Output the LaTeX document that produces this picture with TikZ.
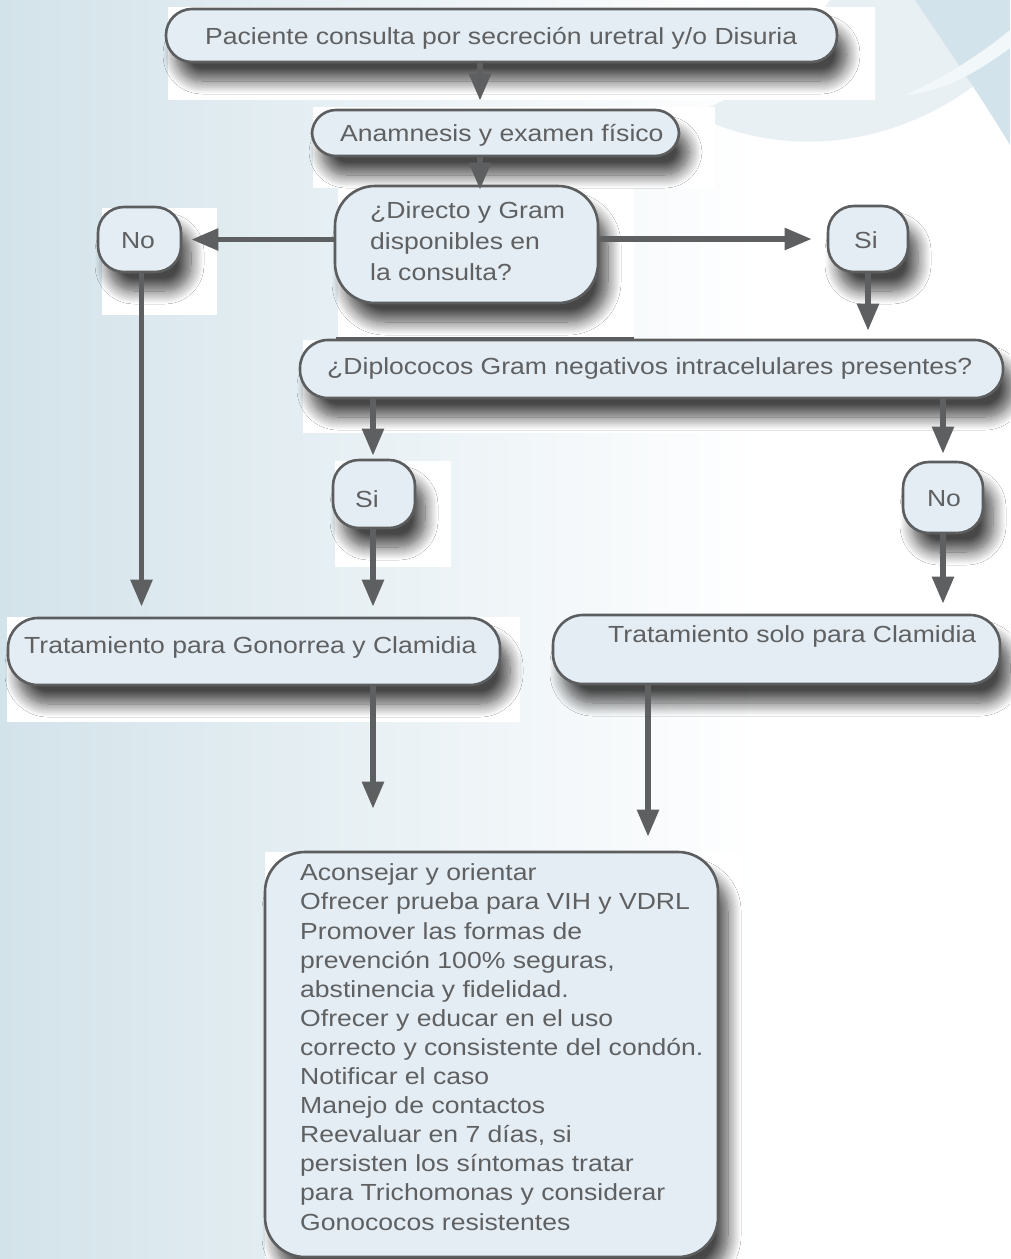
\documentclass[tikz,border=0pt]{standalone}
\usepackage{fontspec}
\setmainfont[FakeStretch=1.14]{Liberation Sans}
\usetikzlibrary{arrows.meta,shadows.blur}

\definecolor{bgleft}{HTML}{D3E3EA}
\definecolor{swlight}{HTML}{E8F0F4}
\definecolor{swdark}{HTML}{D3E3EB}
\definecolor{boxfill}{HTML}{E4EDF3}
\definecolor{edge}{HTML}{5C5D5F}
\definecolor{ink}{HTML}{5F6062}
\definecolor{arrowc}{HTML}{5E5F61}

\begin{document}
\begin{tikzpicture}[x=1pt,y=-1pt,
  box/.style={draw=edge, line width=2.6pt, fill=boxfill, inner sep=0pt,
    blur shadow={shadow xshift=10pt, shadow yshift=-19pt,
      shadow blur radius=13pt, shadow blur steps=14, shadow opacity=72}},
  txt/.style={text=ink, inner sep=0pt, align=left,
    font=\fontsize{23.3pt}{29.1pt}\selectfont},
  arr/.style={draw=arrowc, line width=5.5pt,
    -{Triangle[length=27pt,width=21pt]}},
  pad/.style={fill=white, draw=none}]

\useasboundingbox (0,0) rectangle (1010,1259);

% page background: pale blue fading to white
\shade[left color=bgleft, right color=white, draw=none] (0,0) rectangle (760,1259);
\fill[white] (760,0) rectangle (1010,1259);

% decorative swooshes in the upper right corner
\fill[swlight] (700,118) .. controls (810,168) and (930,135) .. (1010,55)
  -- (1010,0) -- (830,0) .. controls (800,45) and (750,95) .. (700,110) -- cycle;
\fill[swdark] (915,0) .. controls (945,45) and (980,95) .. (1010,145) -- (1010,0) -- cycle;
\fill[white!70!swdark] (905,95) .. controls (940,80) and (980,55) .. (1010,30)
  -- (1010,48) .. controls (980,70) and (945,92) .. (905,95) -- cycle;

% white panels behind the boxes
\fill[pad] (168,7) rectangle (875,100);
\fill[pad] (313,107) rectangle (715,188);
\fill[pad] (338,188) rectangle (634,338);
\fill[pad] (102,208) rectangle (217,315);
\fill[pad] (303,340) rectangle (1010,433);
\fill[pad] (335,461) rectangle (451,567);
\fill[pad] (7,617) rectangle (520,722);
\fill[pad] (265,852) rectangle (740,1259);

% column positions for vertical connectors
\coordinate (colA) at (480,0);
\coordinate (colB) at (648,0);

% boxes
\node[box, rounded corners=26pt, minimum width=671pt, minimum height=53pt] (n1) at (501.5,35.5) {};
\node[box, rounded corners=24pt, minimum width=367pt, minimum height=46pt] (n2) at (495.5,133) {};
\node[box, rounded corners=40pt, minimum width=263pt, minimum height=117pt] (n3) at (466.5,244.5) {};
\node[box, rounded corners=26pt, minimum width=83pt, minimum height=65pt] (noL) at (139.5,239.5) {};
\node[box, rounded corners=26pt, minimum width=80pt, minimum height=66pt] (siR) at (868,239) {};
\node[box, rounded corners=28pt, minimum width=703pt, minimum height=58pt] (dip) at (651.5,369) {};
\node[box, rounded corners=26pt, minimum width=82pt, minimum height=68pt] (siM) at (374,494) {};
\node[box, rounded corners=26pt, minimum width=80pt, minimum height=71pt] (noR) at (943,497.5) {};
\node[box, rounded corners=30pt, minimum width=492pt, minimum height=67pt] (tratA) at (254,651.5) {};
\node[box, rounded corners=30pt, minimum width=447pt, minimum height=69pt] (tratB) at (776.5,649.5) {};
\node[box, rounded corners=40pt, minimum width=453pt, minimum height=405pt] (fin) at (491.5,1054.5) {};

% heavier top edge over the question box
\draw[edge, line width=4pt] (336,339) -- (634,339);

% labels (multi-line labels are placed by the baseline of their last line)
\node[txt, anchor=base west] (n1t) at (205,44) {Paciente consulta por secreción uretral y/o Disuria};
\node[txt, anchor=base west] (n2t) at (340,141) {Anamnesis y examen físico};
\node[txt, anchor=base west, font=\fontsize{23.3pt}{31pt}\selectfont] (n3t) at (370,280)
  {¿Directo y Gram\\disponibles en\\la consulta?};
\node[txt, anchor=base] (noLt) at (138,248) {No};
\node[txt, anchor=base] (siRt) at (866,248) {Si};
\node[txt, anchor=base west] (dipt) at (327,374) {¿Diplococos Gram negativos intracelulares presentes?};
\node[txt, anchor=base] (siMt) at (367,507) {Si};
\node[txt, anchor=base] (noRt) at (944,506) {No};
\node[txt, anchor=base west] (tratAt) at (24,653) {Tratamiento para Gonorrea y Clamidia};
\node[txt, anchor=base west] (tratBt) at (608,642) {Tratamiento solo para Clamidia};
\node[txt, anchor=base west] (fint) at (300,1230)
  {Aconsejar y orientar\\
   Ofrecer prueba para VIH y VDRL\\
   Promover las formas de\\
   prevención 100\% seguras,\\
   abstinencia y fidelidad.\\
   Ofrecer y educar en el uso\\
   correcto y consistente del condón.\\
   Notificar el caso\\
   Manejo de contactos\\
   Reevaluar en 7 días, si\\
   persisten los síntomas tratar\\
   para Trichomonas y considerar\\
   Gonococos resistentes};

% connectors
\draw[arr, shorten >=8pt] (n1.south -| colA) -- (n2.north -| colA);
\draw[arr, shorten >=-5pt] (n2.south -| colA) -- (n3.north -| colA);
\draw[arr, shorten >=9pt] (n3.west |- noL) -- (noL.east);
\draw[arr, shorten >=15pt] (n3.east |- siR) -- (siR.west);
\draw[arr, shorten >=8pt] (siR.south) -- (dip.north -| siR);
\draw[arr, shorten >=3pt] ([xshift=-1pt]dip.south -| siM) -- ([xshift=-1pt]siM.north);
\draw[arr, shorten >=7pt] (dip.south -| noR) -- (noR.north);
\draw[arr, shorten >=10pt] ([xshift=2pt]noL.south) -- ([xshift=2pt]tratA.north -| noL);
\draw[arr, shorten >=10pt] ([xshift=-1pt]siM.south) -- ([xshift=-1pt]tratA.north -| siM);
\draw[arr, shorten >=10pt] (noR.south) -- (tratB.north -| noR);
\draw[arr, shorten >=42pt] ([xshift=-1pt]tratA.south -| siM) -- ([xshift=-1pt]fin.north -| siM);
\draw[arr, shorten >=14pt] (tratB.south -| colB) -- (fin.north -| colB);

\end{tikzpicture}
\end{document}
